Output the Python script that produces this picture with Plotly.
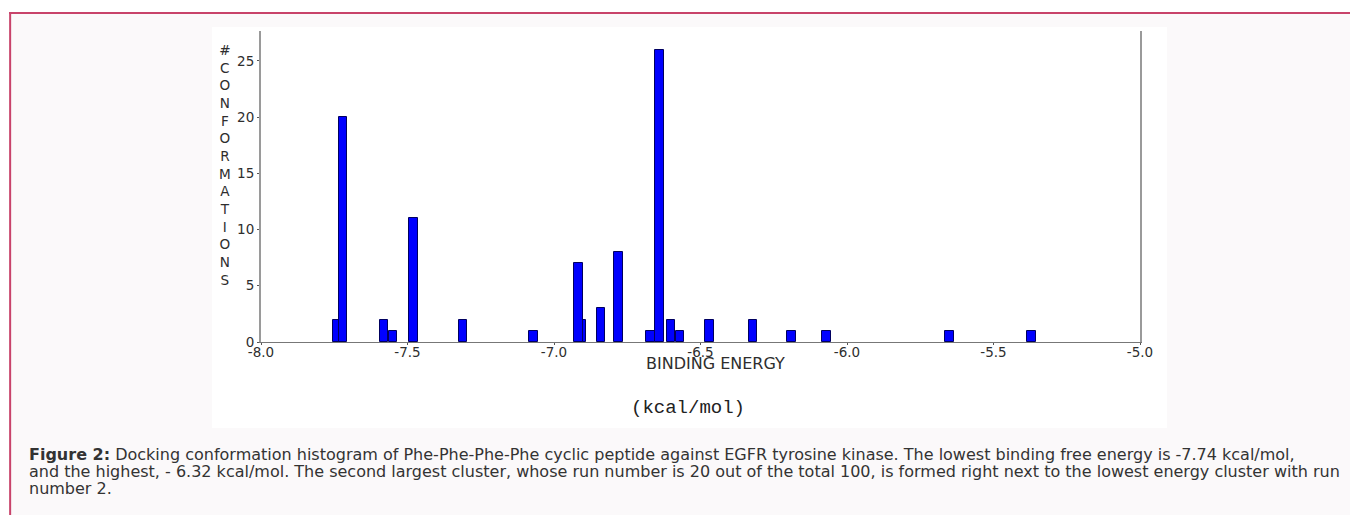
import plotly.graph_objects as go

# ---- data ----
energy = [-7.74, -7.72, -7.58, -7.55, -7.48, -7.31, -7.07, -6.905, -6.917,
          -6.84, -6.78, -6.67, -6.64, -6.60, -6.57, -6.47, -6.32, -6.19,
          -6.07, -5.65, -5.37]
counts = [2, 20, 2, 1, 11, 2, 1, 2, 7,
          3, 8, 1, 26, 2, 1, 2, 2, 1,
          1, 1, 1]
x_ticks = [-8.0, -7.5, -7.0, -6.5, -6.0, -5.5, -5.0]
x_ticklabels = ["-8.0", "-7.5", "-7.0", "-6.5", "-6.0", "-5.5", "-5.0"]
y_ticks = [0, 5, 10, 15, 20, 25]
y_ticklabels = ["0", "5", "10", "15", "20", "25"]

y_title = "#CONFORMATIONS"
x_title = "BINDING ENERGY"
unit_label = "(kcal/mol)"
caption_lines = [
    "<b>Figure 2:</b> Docking conformation histogram of Phe-Phe-Phe-Phe cyclic peptide against EGFR tyrosine kinase. The lowest binding free energy is -7.74 kcal/mol,",
    "and the highest, - 6.32 kcal/mol. The second largest cluster, whose run number is 20 out of the total 100, is formed right next to the lowest energy cluster with run",
    "number 2.",
]

# ---- layout geometry (page pixels; the page body adds an 8px offset) ----
OFF = 8
W, H = 1358 - OFF, 515 - OFF
PL, PR, PT, PB = 261 - OFF, 1140.5 - OFF, 31 - OFF, 341.7 - OFF   # plot area edges (figure px)


def px(x):
    return (x - OFF - PL) / (PR - PL)


def py(y):
    return (PB - (y - OFF)) / (PB - PT)


TXT = "#2e2e2e"
FONT = "DejaVu Sans"

fig = go.Figure()
fig.add_trace(go.Bar(
    x=energy, y=counts, width=[0.029] * len(energy),
    marker=dict(color="#0000ff", line=dict(color="#000060", width=1)),
    showlegend=False,
))

shapes = [
    # page frame background
    dict(type="rect", xref="paper", yref="paper", x0=px(10), x1=px(1365), y0=py(525), y1=py(13),
         fillcolor="#fbf9fa", line=dict(width=0), layer="below"),
    # white figure image
    dict(type="rect", xref="paper", yref="paper", x0=px(212), x1=px(1167.5), y0=py(427.5), y1=py(27),
         fillcolor="#ffffff", line=dict(width=0), layer="below"),
    # frame borders
    dict(type="line", xref="paper", yref="paper", x0=px(9), x1=px(1365), y0=py(13), y1=py(13),
         line=dict(color="#c8436a", width=2)),
    dict(type="line", xref="paper", yref="paper", x0=px(10), x1=px(10), y0=py(12), y1=py(525),
         line=dict(color="#c8436a", width=2)),
]

annotations = [
    dict(text="<br>".join(list(y_title)), xref="paper", yref="paper", x=px(225), y=py(165),
         xanchor="center", yanchor="middle", showarrow=False,
         font=dict(family=FONT, size=13.6, color=TXT)),
    dict(text=x_title, xref="paper", yref="paper", x=px(716), y=py(363),
         xanchor="center", yanchor="middle", showarrow=False,
         font=dict(family=FONT, size=16, color=TXT)),
    dict(text=unit_label, xref="paper", yref="paper", x=px(688), y=py(408),
         xanchor="center", yanchor="middle", showarrow=False,
         font=dict(family="Liberation Mono", size=19, color="#222222")),
]
for line, yy in zip(caption_lines, [454, 471.5, 488.5]):
    annotations.append(dict(text=line, xref="paper", yref="paper", x=px(27), y=py(yy),
                            xanchor="left", yanchor="middle", showarrow=False,
                            font=dict(family=FONT, size=16, color="#333333")))

fig.update_layout(
    width=W, height=H,
    margin=dict(l=PL, r=W - PR, t=PT, b=H - PB, pad=0),
    paper_bgcolor="#ffffff", plot_bgcolor="rgba(0,0,0,0)",
    bargap=0, barmode="overlay",
    shapes=shapes, annotations=annotations,
    xaxis=dict(range=[-8, -5], tickvals=x_ticks, ticktext=x_ticklabels,
               showgrid=False, zeroline=False, showline=True, linecolor="#777777", linewidth=1,
               ticks="outside", ticklen=2, tickcolor="#555555", ticklabelstandoff=-4,
               tickfont=dict(family=FONT, size=13.5, color=TXT)),
    yaxis=dict(range=[0, 27.65], tickvals=y_ticks, ticktext=y_ticklabels,
               showgrid=False, zeroline=False, showline=True, mirror=True,
               linecolor="#9a9a9a", linewidth=2,
               ticks="outside", ticklen=2, tickcolor="#555555",
               tickfont=dict(family=FONT, size=13.5, color=TXT)),
)

fig.write_html("out.html")
